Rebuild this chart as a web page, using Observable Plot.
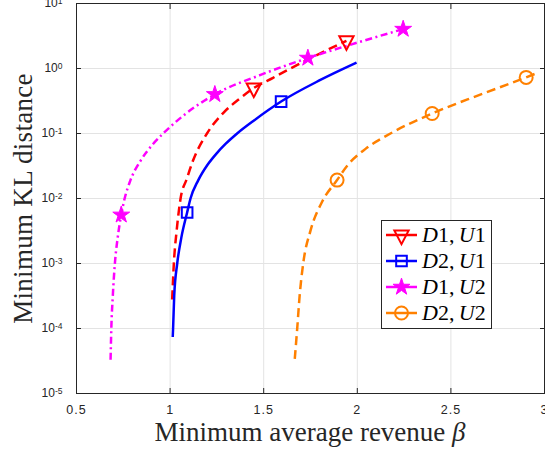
<!DOCTYPE html>
<html>
<head>
<meta charset="utf-8">
<script src="https://cdn.jsdelivr.net/npm/d3@7"></script>
<script src="https://cdn.jsdelivr.net/npm/@observablehq/plot@0.6"></script>
<style>
  body { margin: 0; background: #fff; }
  #chart { width: 545px; height: 452px; }
</style>
</head>
<body>
<div id="chart"></div>
<script>
// ---- tick values ----
const xTicks = [0.5, 1, 1.5, 2, 2.5, 3];
const yTicks = [1e-5, 1e-4, 1e-3, 1e-2, 1e-1, 1, 10];

// ---- series ----
const seriesNames = ["D1,U1", "D2,U1", "D1,U2", "D2,U2"];
const seriesColors = ["#ff0000", "#0000ff", "#ff00ff", "#ff8000"];

// D1,U1 (red dashed, triangles)
const d1u1X = [1.011, 1.02, 1.035, 1.056, 1.089, 1.122, 1.197, 1.286, 1.37, 1.447, 1.55, 1.643, 1.8, 1.942];
const d1u1Y = [2.8e-4, 1e-3, 3.2e-3, 1e-2, 2.0e-2, 3.8e-2, 0.1, 0.21, 0.34, 0.50, 0.72, 1.0, 1.7, 2.67];
const d1u1MarkX = [1.447, 1.942];
const d1u1MarkY = [0.50, 2.67];

// D2,U1 (blue solid, squares)
const d2u1X = [1.014, 1.016, 1.022, 1.038, 1.06, 1.091, 1.109, 1.15, 1.2, 1.25, 1.296, 1.358, 1.45, 1.593, 1.8, 1.996];
const d2u1Y = [7.4e-5, 1e-4, 3.2e-4, 1e-3, 2.5e-3, 6.1e-3, 1e-2, 1.9e-2, 3.3e-2, 0.05, 0.069, 0.1, 0.16, 0.31, 0.66, 1.23];
const d2u1MarkX = [1.091, 1.593];
const d2u1MarkY = [6.1e-3, 0.31];

// D1,U2 (magenta dash-dot, stars)
const d1u2X = [0.682, 0.686, 0.694, 0.705, 0.72, 0.739, 0.753, 0.787, 0.842, 0.909, 0.963, 1.082, 1.239, 1.48, 1.736, 2.0, 2.245];
const d1u2Y = [3.3e-5, 1e-4, 3.2e-4, 1e-3, 2.5e-3, 5.6e-3, 8.9e-3, 1.87e-2, 3.8e-2, 6.9e-2, 0.1, 0.2, 0.40, 0.79, 1.45, 2.5, 4.04];
const d1u2MarkX = [0.739, 1.239, 1.736, 2.245];
const d1u2MarkY = [5.6e-3, 0.40, 1.45, 4.04];

// D2,U2 (orange dashed, circles)
const d2u2X = [1.666, 1.679, 1.692, 1.711, 1.75, 1.812, 1.892, 1.946, 2.044, 2.177, 2.4, 2.65, 2.902, 2.968];
const d2u2Y = [3.4e-5, 1e-4, 3.2e-4, 1e-3, 3.2e-3, 8.9e-3, 1.92e-2, 3.2e-2, 5.8e-2, 0.1, 0.203, 0.39, 0.73, 0.87];
const d2u2MarkX = [1.892, 2.4, 2.902];
const d2u2MarkY = [1.92e-2, 0.203, 0.73];

const xLabel = "Minimum average revenue ";
const xLabelSymbol = "β";
const yLabel = "Minimum KL distance";

// ---- helpers ----
const zip = (xs, ys) => xs.map((x, i) => ({x, y: ys[i]}));

const triDown = {
  draw(ctx, size) {
    const s = Math.sqrt(size / Math.PI);
    ctx.moveTo(-1.1 * s, -0.7 * s);
    ctx.lineTo(1.1 * s, -0.7 * s);
    ctx.lineTo(0, 1.4 * s);
    ctx.closePath();
  }
};

const styles = [
  {dash: "9,5", symbol: triDown, r: 6.5, fill: "none"},
  {dash: null, symbol: d3.symbolSquare, r: 6.0, fill: "none"},
  {dash: "7,3.5,2,3.5", symbol: d3.symbolStar, r: 5.3, fill: "#ff00ff"},
  {dash: "9,5", symbol: d3.symbolCircle, r: 6.5, fill: "none"}
];

const lines = [zip(d1u1X, d1u1Y), zip(d2u1X, d2u1Y), zip(d1u2X, d1u2Y), zip(d2u2X, d2u2Y)];
const marks = [zip(d1u1MarkX, d1u1MarkY), zip(d2u1MarkX, d2u1MarkY), zip(d1u2MarkX, d1u2MarkY), zip(d2u2MarkX, d2u2MarkY)];

const ink = "#262626";
const gridColor = "#e3e3e3";

const lineMarks = lines.map((data, i) => Plot.line(data, {
  x: "x", y: "y", stroke: seriesColors[i], strokeWidth: 2.5, curve: "monotone-x",
  strokeDasharray: styles[i].dash, strokeLinecap: "butt", strokeLinejoin: "round"
}));
const dotMarks = marks.map((data, i) => Plot.dot(data, {
  x: "x", y: "y", symbol: styles[i].symbol, r: styles[i].r,
  stroke: seriesColors[i], strokeWidth: i === 2 ? 1 : 2, fill: styles[i].fill
}));

const svg = Plot.plot({
  width: 545,
  height: 452,
  marginLeft: 76,
  marginRight: 1,
  marginTop: 3,
  marginBottom: 59,
  x: {domain: [0.5, 3]},
  y: {type: "log", domain: [1e-5, 10]},
  style: {fontFamily: "Liberation Sans, Arial, sans-serif", fontSize: "12px", color: ink, background: "white"},
  marks: [
    Plot.gridX(xTicks, {stroke: gridColor, strokeOpacity: 1, strokeWidth: 1}),
    Plot.gridY(yTicks, {stroke: gridColor, strokeOpacity: 1, strokeWidth: 1}),
    ...lineMarks,
    ...dotMarks,
    Plot.frame({stroke: ink, strokeWidth: 1}),
    Plot.axisX(xTicks, {anchor: "bottom", tickSize: 0, tickPadding: 12, fontSize: 12.5, tickFormat: d => String(d), label: null, fill: ink}),
    Plot.axisX(xTicks, {anchor: "bottom", tickSize: 5, dy: -5, tickFormat: () => "", label: null, stroke: ink}),
    Plot.axisX(xTicks, {anchor: "top", tickSize: 5, dy: 5, tickFormat: () => "", label: null, stroke: ink}),
    Plot.axisY(yTicks, {anchor: "left", tickSize: 0, tickPadding: 14, fontSize: 12, tickFormat: d => "10^" + Math.round(Math.log10(d)), label: null, fill: ink}),
    Plot.axisY(yTicks, {anchor: "left", tickSize: 5, dx: 5, tickFormat: () => "", label: null, stroke: ink}),
    Plot.axisY(yTicks, {anchor: "right", tickSize: 5, dx: -5, tickFormat: () => "", label: null, stroke: ink})
  ]
});

document.getElementById("chart").appendChild(svg);
const s = d3.select(svg);

// drop empty label texts of the tick-only axes
s.selectAll("text").filter(function () { return this.textContent === ""; }).remove();

// wider spacing on x tick labels
s.selectAll('g[aria-label="x-axis tick label"] text').attr("letter-spacing", 1);

// superscript exponents on y tick labels
s.selectAll('g[aria-label="y-axis tick label"] text').each(function () {
  const t = d3.select(this);
  const str = t.text();
  if (!str.includes("^")) return;
  const [b, e] = str.split("^");
  t.text(null);
  t.append("tspan").text(b);
  t.append("tspan").attr("dy", "-0.42em").attr("font-size", "8.5px").text(e);
});

// axis titles
const xl = s.append("text")
  .attr("x", 310).attr("y", 441)
  .attr("text-anchor", "middle")
  .attr("font-family", "Liberation Serif, Times New Roman, serif")
  .attr("font-size", 27).attr("fill", ink);
xl.append("tspan").text(xLabel);
xl.append("tspan").attr("font-style", "italic").text(xLabelSymbol);

s.append("text")
  .attr("transform", "translate(32,198.5) rotate(-90)")
  .attr("text-anchor", "middle")
  .attr("font-family", "Liberation Serif, Times New Roman, serif")
  .attr("font-size", 27).attr("letter-spacing", 0.3).attr("fill", ink)
  .text(yLabel);

// legend
const lg = s.append("g").attr("transform", "translate(381.5,220.5)");
lg.append("rect").attr("width", 110).attr("height", 108)
  .attr("fill", "white").attr("stroke", ink).attr("stroke-width", 1);
const rowY = [14.5, 40.5, 66.5, 92.5];
seriesNames.forEach((name, i) => {
  const g = lg.append("g").attr("transform", `translate(0,${rowY[i]})`);
  g.append("line").attr("x1", 4.5).attr("x2", 35.5).attr("y1", 0).attr("y2", 0)
    .attr("stroke", seriesColors[i]).attr("stroke-width", 2.5);
  g.append("path")
    .attr("transform", "translate(20,0)")
    .attr("d", d3.symbol().type(styles[i].symbol).size(Math.PI * styles[i].r * styles[i].r)())
    .attr("fill", styles[i].fill).attr("stroke", seriesColors[i])
    .attr("stroke-width", i === 2 ? 1 : 2);
  const t = g.append("text").attr("x", 40.5).attr("y", 7)
    .attr("text-anchor", "start")
    .attr("font-family", "Liberation Serif, Times New Roman, serif")
    .attr("font-size", 22).attr("fill", "#000");
  const [a, b] = name.split(",");
  [a, b].forEach((part, k) => {
    if (k === 1) t.append("tspan").text(",\u2009");
    t.append("tspan").attr("font-style", "italic").text(part[0]);
    t.append("tspan").text(part.slice(1));
  });
});
</script>
</body>
</html>
